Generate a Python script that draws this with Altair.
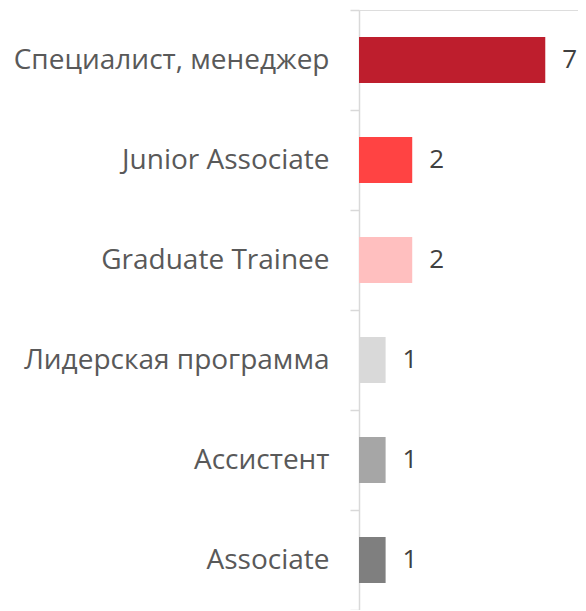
import altair as alt
import pandas as pd

categories = ["Специалист, менеджер", "Junior Associate", "Graduate Trainee",
              "Лидерская программа", "Ассистент", "Associate"]
values = [7, 2, 2, 1, 1, 1]
colors = ["#BE1E2D", "#FF4343", "#FFBFBF", "#D9D9D9", "#A6A6A6", "#7F7F7F"]

df = pd.DataFrame({"cat": categories, "val": values, "col": colors})

FONT = "Open Sans"

y_enc = alt.Y("cat:N", sort=categories, title=None,
              scale=alt.Scale(paddingInner=0, paddingOuter=0),
              axis=alt.Axis(domainColor="#D9D9D9", domainWidth=1.5,
                            tickColor="#D9D9D9", tickWidth=1.5, tickSize=9,
                            tickBand="extent",
                            labelFont=FONT, labelFontSize=28, labelColor="#595959",
                            labelPadding=21, labelLimit=400))
x_enc = alt.X("val:Q", title=None,
              scale=alt.Scale(domain=[0, 8.23], nice=False, zero=True),
              axis=None)

bars = alt.Chart(df).mark_bar(height=46).encode(
    y=y_enc, x=x_enc,
    color=alt.Color("col:N", scale=None)
)

text = alt.Chart(df).mark_text(align="left", baseline="middle", dx=17,
                               font=FONT, fontSize=26, color="#404040").encode(
    y=alt.Y("cat:N", sort=categories), x="val:Q", text="val:Q"
)

chart = alt.layer(bars, text).properties(
    width=219, height=600,
    autosize=alt.AutoSizeParams(type="none"),
    padding={"left": 351, "top": 2, "right": 0, "bottom": 0},
).configure_view(stroke=None).configure(background="white")

chart.save("out.html", embed_options={"renderer": "svg", "actions": False})
